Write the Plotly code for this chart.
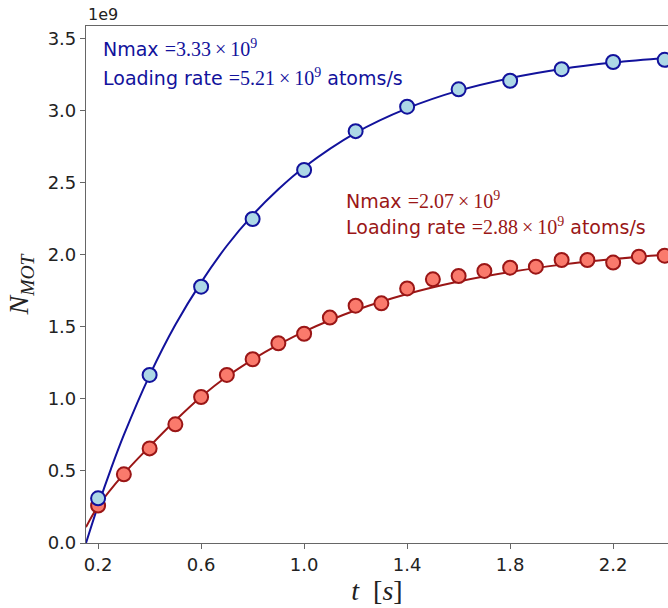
import plotly.graph_objects as go

# Data (values in units of 1e9 atoms)
t_blue = [0.2, 0.4, 0.6, 0.8, 1.0, 1.2, 1.4, 1.6, 1.8, 2.0, 2.2, 2.4]
n_blue = [0.31, 1.167, 1.78, 2.25, 2.59, 2.86, 3.03, 3.15, 3.21, 3.29, 3.34, 3.355]

t_red = [0.2, 0.3, 0.4, 0.5, 0.6, 0.7, 0.8, 0.9, 1.0, 1.1, 1.2, 1.3, 1.4, 1.5,
         1.6, 1.7, 1.8, 1.9, 2.0, 2.1, 2.2, 2.3, 2.4]
n_red = [0.26, 0.477, 0.657, 0.824, 1.014, 1.167, 1.276, 1.387, 1.453, 1.565,
         1.648, 1.664, 1.768, 1.831, 1.854, 1.889, 1.912, 1.919, 1.965, 1.965,
         1.947, 1.988, 1.995]

# Fit curves
t_fit_blue = [0.153, 0.2, 0.25, 0.3, 0.4, 0.5, 0.6, 0.7, 0.8, 0.9, 1.0, 1.2, 1.4,
              1.6, 1.8, 2.0, 2.2, 2.413]
n_fit_blue = [0.0, 0.26, 0.515, 0.75, 1.164, 1.515, 1.81, 2.064, 2.277, 2.456,
              2.609, 2.848, 3.018, 3.141, 3.228, 3.291, 3.336, 3.37]

t_fit_red = [0.153, 0.2, 0.3, 0.4, 0.5, 0.6, 0.7, 0.8, 0.9, 1.0, 1.2, 1.4, 1.6,
             1.8, 2.0, 2.2, 2.413]
n_fit_red = [0.11, 0.255, 0.48, 0.67, 0.85, 1.015, 1.156, 1.274, 1.377, 1.468,
             1.616, 1.729, 1.816, 1.882, 1.933, 1.972, 2.004]

x_ticks = [0.2, 0.6, 1.0, 1.4, 1.8, 2.2]
y_ticks = [0.0, 0.5, 1.0, 1.5, 2.0, 2.5, 3.0, 3.5]

# Annotation texts
blue_nmax, blue_rate = "3.33", "5.21"
red_nmax, red_rate = "2.07", "2.88"

BLUE = "#12129c"
RED = "#9a1616"
SERIF = "Liberation Serif, DejaVu Serif, serif"
SANS = "DejaVu Sans, sans-serif"

fig = go.Figure()
fig.add_trace(go.Scatter(x=t_fit_blue, y=n_fit_blue, mode="lines",
                         line=dict(color=BLUE, width=2, shape="spline"),
                         showlegend=False, hoverinfo="skip"))
fig.add_trace(go.Scatter(x=t_fit_red, y=n_fit_red, mode="lines",
                         line=dict(color=RED, width=2, shape="spline"),
                         showlegend=False, hoverinfo="skip"))
fig.add_trace(go.Scatter(x=t_red, y=n_red, mode="markers",
                         marker=dict(size=14, color="#fa7a6c",
                                     line=dict(color=RED, width=2)),
                         showlegend=False))
fig.add_trace(go.Scatter(x=t_blue, y=n_blue, mode="markers",
                         marker=dict(size=14, color="#add8e6",
                                     line=dict(color=BLUE, width=2)),
                         showlegend=False))

def num(v):
    return (f"<span style='font-family:{SERIF};font-size:20px'>"
            f"={v}\u2009×\u200910<sup>9</sup></span>")

def add_lines(x0, y1, y2, nmax, rate, color):
    fig.add_annotation(x=x0, y=y1, xref="x", yref="y", xanchor="left", yanchor="middle",
                       text=f"Nmax {num(nmax)}", showarrow=False, align="left",
                       font=dict(family=SANS, size=19, color=color))
    fig.add_annotation(x=x0, y=y2, xref="x", yref="y", xanchor="left", yanchor="middle",
                       text=f"Loading rate {num(rate)} atoms/s", showarrow=False, align="left",
                       font=dict(family=SANS, size=19, color=color))

add_lines(0.212, 3.44, 3.235, blue_nmax, blue_rate, BLUE)
add_lines(1.155, 2.385, 2.20, red_nmax, red_rate, RED)

fig.add_annotation(x=0.0, y=1.0, xref="paper", yref="paper", xanchor="left", yanchor="bottom",
                   yshift=0, text="1e9", showarrow=False,
                   font=dict(family=SANS, size=16, color="#222"))

fig.update_layout(
    width=668, height=608,
    margin=dict(l=86, r=0, t=26, b=65),
    paper_bgcolor="white", plot_bgcolor="white",
    font=dict(family=SANS, size=18, color="#222"),
)
fig.update_xaxes(range=[0.153, 2.413], tickvals=x_ticks, ticktext=[f"{v:.1f}" for v in x_ticks],
                 showgrid=False, zeroline=False, showline=True, linecolor="#666", linewidth=1.2,
                 mirror=True, ticks="outside", ticklen=5, tickcolor="#666",
                 tickfont=dict(size=18, family=SANS, color="#222"),
                 title=dict(text="<i>t</i>  [<i>s</i>]", font=dict(family=SERIF, size=28, color="#222"),
                            standoff=4))
fig.update_yaxes(range=[0, 3.59], tickvals=y_ticks, ticktext=[f"{v:.1f}" for v in y_ticks],
                 showgrid=False, zeroline=False, showline=True, linecolor="#666", linewidth=1.2,
                 mirror=False, ticks="outside", ticklen=5, tickcolor="#666",
                 tickfont=dict(size=18, family=SANS, color="#222"),
                 title=dict(text="<i>N</i><sub><i>MOT</i></sub>", font=dict(family=SERIF, size=28, color="#222"),
                            standoff=10))

fig.write_html("out.html")
